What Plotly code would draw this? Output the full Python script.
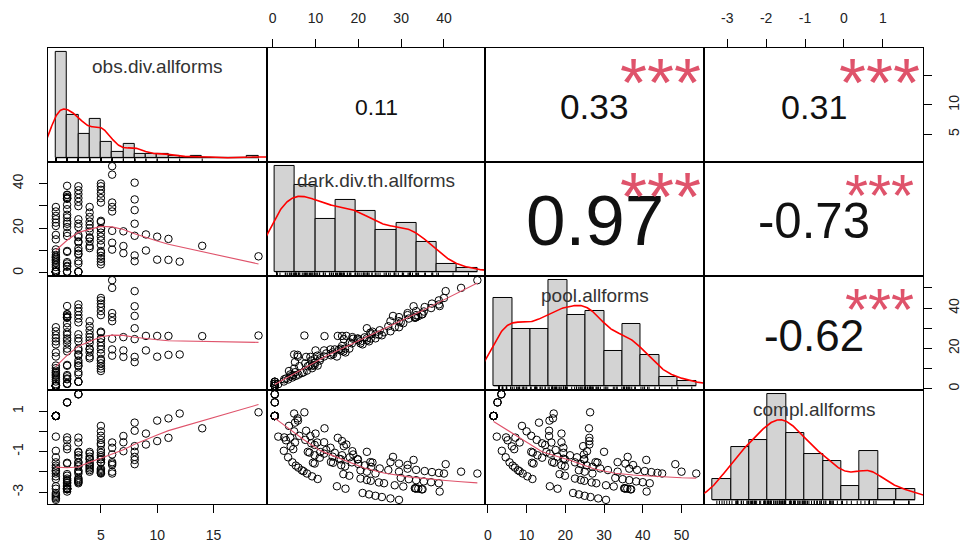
import numpy as np
import plotly.graph_objects as go

# ---------------------------------------------------------------- data
VAR_NAMES = ["obs.div.allforms", "dark.div.th.allforms", "pool.allforms", "compl.allforms"]

OBS = [
    1, 1, 1, 1, 1, 1, 1, 1, 1, 1, 1, 1, 1, 1, 1, 1, 1, 1, 1, 1, 1, 1, 1, 1, 1, 1, 1, 1, 1,
    2, 2, 2, 2, 2, 2, 2, 2, 2, 2, 2, 2, 2, 2, 2, 2, 2, 2, 2, 2, 2, 2, 2, 2, 2,
    3, 3, 3, 3, 3, 3, 3, 3, 3, 3, 3, 3, 3, 3, 3, 3, 3, 3, 3, 3, 3, 3,
    4, 4, 4, 4, 4, 4, 4, 4, 4, 4, 4, 4,
    5, 5, 5, 5, 5, 5, 5, 5, 5, 5, 5, 5, 5, 5, 5, 5, 5, 5, 5, 5,
    6, 6, 6, 6, 6, 6, 6, 6,
    7, 7, 7,
    8, 8, 8, 8, 8, 8, 8,
    9, 9, 10, 10, 11, 11, 12, 14, 19,
]

DARK = [
    0.47, 0.47, 0.47, 0.47, 0.47, 0.47, 0.47, 0.47, 0.47, 0.47, 1.3, 2.6, 3.6, 4.6, 5.4,
    6.0, 6.8, 7.2, 8.0, 9.2, 10.5, 15.0, 17.0, 21.0, 22.5, 24.0, 25.5, 27.5, 29.5,
    0.48, 0.48, 0.48, 2.7, 3.1, 4.2, 4.8, 9.4, 9.8, 16.5, 17.9, 20.5, 22.0, 22.9, 24.8,
    26.0, 28.5, 30.5, 33.2, 33.3, 33.5, 34.0, 34.8, 35.0, 39.0,
    0.48, 0.48, 0.48, 4.1, 5.2, 8.2, 8.6, 9.8, 11.0, 13.6, 14.1, 16.0, 16.9, 20.5, 22.0,
    24.0, 29.9, 31.8, 33.5, 35.3, 37.0, 38.8,
    11.1, 12.0, 14.0, 15.5, 15.9, 18.5, 20.0, 21.5, 23.0, 25.0, 27.0, 29.5,
    3.8, 5.0, 6.2, 7.6, 9.0, 9.8, 12.5, 14.5, 16.2, 18.0, 19.8, 19.9, 22.8, 23.3, 31.5,
    33.5, 35.5, 37.2, 38.8, 40.0,
    10.4, 13.5, 18.8, 27.5, 29.5, 31.5, 44.0, 47.8,
    8.8, 12.0, 18.6,
    5.2, 7.8, 16.6, 22.0, 28.1, 32.9, 40.4,
    10.0, 17.2, 5.9, 16.2, 5.8, 15.2, 5.0, 12.1, 7.4,
]

POOL = [
    1.47, 1.47, 1.47, 1.47, 1.47, 1.47, 1.47, 1.47, 1.47, 1.47, 2.3, 3.6, 4.6, 5.6, 6.4,
    7.0, 7.8, 8.2, 9.0, 10.2, 11.5, 16.0, 18.0, 22.0, 23.5, 25.0, 26.5, 28.5, 30.5,
    2.48, 2.48, 2.48, 4.7, 5.1, 6.2, 6.8, 11.4, 11.8, 18.5, 19.9, 22.5, 24.0, 24.9, 26.8,
    28.0, 30.5, 32.5, 35.2, 35.3, 35.5, 36.0, 36.8, 37.0, 41.0,
    3.48, 3.48, 3.48, 7.1, 8.2, 11.2, 11.6, 12.8, 14.0, 16.6, 17.1, 19.0, 19.9, 23.5, 25.0,
    27.0, 32.9, 34.8, 36.5, 38.3, 40.0, 41.8,
    15.1, 16.0, 18.0, 19.5, 19.9, 22.5, 24.0, 25.5, 27.0, 29.0, 31.0, 33.5,
    8.8, 10.0, 11.2, 12.6, 14.0, 14.8, 17.5, 19.5, 21.2, 23.0, 24.8, 24.9, 27.8, 28.3, 36.5,
    38.5, 40.5, 42.2, 43.8, 45.0,
    16.4, 19.5, 24.8, 33.5, 35.5, 37.5, 50.0, 53.8,
    15.8, 19.0, 25.6,
    13.2, 15.8, 24.6, 30.0, 36.1, 40.9, 48.4,
    19.0, 26.2, 15.9, 26.2, 16.8, 26.2, 17.0, 26.1, 26.4,
]

COMPL = [
    0.76, 0.76, 0.76, 0.76, 0.76, 0.76, 0.76, 0.76, 0.76, 0.76, -0.26, -0.96, -1.28, -1.53, -1.69,
    -1.79, -1.92, -1.97, -2.08, -2.22, -2.35, -2.71, -2.83, -3.04, -3.11, -3.18, -3.24, -3.31, -3.38,
    1.43, 1.43, 1.43, -0.30, -0.44, -0.74, -0.88, -1.55, -1.59, -2.11, -2.19, -2.33, -2.40, -2.44, -2.52,
    -2.56, -2.66, -2.72, -2.81, -2.81, -2.82, -2.83, -2.86, -2.86, -2.97,
    1.83, 1.83, 1.83, -0.31, -0.55, -1.01, -1.05, -1.18, -1.30, -1.51, -1.55, -1.67, -1.73, -1.92, -1.99,
    -2.08, -2.30, -2.36, -2.41, -2.47, -2.51, -2.56,
    -1.02, -1.10, -1.25, -1.35, -1.38, -1.53, -1.61, -1.68, -1.75, -1.83, -1.91, -1.99,
    0.27, 0.00, -0.22, -0.42, -0.59, -0.67, -0.92, -1.06, -1.18, -1.28, -1.38, -1.38, -1.52, -1.54, -1.84,
    -1.90, -1.96, -2.01, -2.05, -2.08,
    -0.55, -0.81, -1.14, -1.52, -1.59, -1.66, -1.99, -2.08,
    -0.23, -0.54, -0.98,
    0.43, 0.03, -0.73, -1.01, -1.26, -1.41, -1.62,
    -0.11, -0.65, 0.53, -0.48, 0.64, -0.32, 0.88, 0.15, 0.94,
]

# histogram breaks per variable: first break, last break, bin width
HIST_BREAKS = [(1, 19, 1), (0, 50, 5), (0, 55, 5), (-3.5, 2.0, 0.5)]

# upper-triangle cells (row, col) with the printed coefficient and stars
COR_CELLS = [(0, 1), (0, 2), (0, 3), (1, 2), (1, 3), (2, 3)]
COR_TEXT = ["0.11", "0.33", "0.31", "0.97", "-0.73", "-0.62"]
COR_STARS = ["", "***", "***", "***", "***", "***"]

# outer axes: tick values and tick labels
TOP_TICKS = {1: ([0, 10, 20, 30, 40], ["0", "10", "20", "30", "40"]),
             3: ([-3, -2, -1, 0, 1], ["-3", "-2", "-1", "0", "1"])}
BOTTOM_TICKS = {0: ([5, 10, 15], ["5", "10", "15"]),
                2: ([0, 10, 20, 30, 40, 50], ["0", "10", "20", "30", "40", "50"])}
LEFT_TICKS = {1: ([0, 10, 20, 30, 40], ["0", "", "20", "", "40"]),
              3: ([-3, -2, -1, 0, 1], ["-3", "", "-1", "", "1"])}
RIGHT_TICKS = {0: ([5, 10, 15], ["5", "10", ""]),
               2: ([0, 10, 20, 30, 40, 50], ["0", "", "20", "", "40", ""])}

# ---------------------------------------------------------------- helpers
DATA = [np.asarray(v, dtype=float) for v in (OBS, DARK, POOL, COMPL)]
assert len({len(v) for v in DATA}) == 1, [len(v) for v in DATA]
NV = len(DATA)

FONT = "Liberation Sans, Arial, Helvetica, sans-serif"
BAR_FILL = "#D3D3D3"
DENS_COLOR = "#FF0000"
SMOOTH_COLOR = "#DF536B"
STAR_COLOR = "#DF536B"

W, H = 962, 547
X0, X1, Y0, Y1 = 47, 927, 48, 505      # frame of the panel matrix in pixels
CW = (X1 - X0) / NV
RH = (Y1 - Y0) / NV


def xdom(j):
    return [(X0 + j * CW) / W, (X0 + (j + 1) * CW) / W]


def ydom(i):
    return [1 - (Y0 + (i + 1) * RH) / H, 1 - (Y0 + i * RH) / H]


def ext(lo, hi, f=0.04):
    r = hi - lo
    return [lo - f * r, hi + f * r]


def hist_density(v, first, last, width):
    edges = np.arange(first, last + width / 2, width)
    idx = np.searchsorted(edges, v, side="left") - 1     # right-closed bins
    idx[idx < 0] = 0                                       # include lowest
    counts = np.bincount(idx, minlength=len(edges) - 1)[: len(edges) - 1]
    dens = counts / (len(v) * width)
    return edges, dens


def kde(v, n_grid=512):
    n = len(v)
    q75, q25 = np.percentile(v, [75, 25])
    lo = min(v.std(ddof=1), (q75 - q25) / 1.34)
    bw = 0.9 * lo * n ** -0.2
    gx = np.linspace(v.min() - 3 * bw, v.max() + 3 * bw, n_grid)
    gy = np.exp(-0.5 * ((gx[:, None] - v[None, :]) / bw) ** 2).sum(1) / (n * bw * np.sqrt(2 * np.pi))
    return gx, gy


def lowess(x, y, f=2 / 3, iters=3):
    order = np.argsort(x, kind="mergesort")
    xs, ys = x[order], y[order]
    n = len(xs)
    ns = max(min(int(round(f * n)), n), 2)
    rob = np.ones(n)
    fit = np.empty(n)
    for it in range(iters + 1):
        for i in range(n):
            d = np.abs(xs - xs[i])
            h = np.partition(d, ns - 1)[ns - 1]
            if h > 0:
                u = d / h
                w = np.where(u < 1, (1 - u ** 3) ** 3, 0.0)
            else:
                w = (d == 0).astype(float)
            w = w * rob
            sw = w.sum()
            if sw <= 0:
                fit[i] = ys[i]
                continue
            xm = (w * xs).sum() / sw
            ym = (w * ys).sum() / sw
            sxx = (w * (xs - xm) ** 2).sum()
            b = (w * (xs - xm) * (ys - ym)).sum() / sxx if sxx > 1e-12 else 0.0
            fit[i] = ym + b * (xs[i] - xm)
        if it == iters:
            break
        res = ys - fit
        m = np.median(np.abs(res))
        if m < 1e-12:
            break
        u = res / (6 * m)
        rob = np.where(np.abs(u) < 1, (1 - u ** 2) ** 2, 0.0)
    return xs, fit


def ax_name(kind, k):
    return kind if k == 1 else f"{kind}{k}"


# ---------------------------------------------------------------- figure
fig = go.Figure()
layout = {}
annotations = []
tickfont = dict(family=FONT, size=14, color="#222222")

var_ranges = [ext(v.min(), v.max()) for v in DATA]

for i in range(NV):
    for j in range(NV):
        k = i * NV + j + 1
        xr, yr = var_ranges[j], var_ranges[i]
        xa, ya = ax_name("x", k), ax_name("y", k)

        if i == j:
            first, last, width = HIST_BREAKS[i]
            edges, dens = hist_density(DATA[i], first, last, width)
            xr = ext(edges[0], edges[-1])
            yr = ext(0, dens.max())
            # baseline under empty bins
            fig.add_trace(go.Scatter(x=[edges[0], edges[-1]], y=[0, 0], mode="lines",
                                     line=dict(color="black", width=1), xaxis=xa, yaxis=ya,
                                     hoverinfo="skip"))
            fig.add_trace(go.Bar(x=(edges[:-1] + edges[1:]) / 2, y=dens, width=width,
                                 marker=dict(color=BAR_FILL, line=dict(color="black", width=1)),
                                 xaxis=xa, yaxis=ya))
            gx, gy = kde(DATA[i])
            fig.add_trace(go.Scatter(x=gx, y=gy, mode="lines",
                                     line=dict(color=DENS_COLOR, width=1.6),
                                     xaxis=xa, yaxis=ya, hoverinfo="skip"))
            # rug along the bottom edge
            rx, ry = [], []
            tick_top = yr[0] + 0.03 * (yr[1] - yr[0])
            for v in DATA[i]:
                rx += [v, v, None]
                ry += [yr[0], tick_top, None]
            fig.add_trace(go.Scatter(x=rx, y=ry, mode="lines",
                                     line=dict(color="black", width=1),
                                     xaxis=xa, yaxis=ya, hoverinfo="skip"))
            annotations.append(dict(text=VAR_NAMES[i], x=0.5, y=0.8333,
                                    xref=f"{xa} domain", yref=f"{ya} domain",
                                    showarrow=False, xanchor="center", yanchor="middle",
                                    font=dict(family=FONT, size=19, color="#333333")))
        elif i > j:
            fig.add_trace(go.Scatter(x=DATA[j], y=DATA[i], mode="markers",
                                     marker=dict(symbol="circle-open", size=7.5, color="black",
                                                 line=dict(width=1, color="black")),
                                     xaxis=xa, yaxis=ya, hoverinfo="skip"))
            sx, sy = lowess(DATA[j], DATA[i])
            fig.add_trace(go.Scatter(x=sx, y=sy, mode="lines",
                                     line=dict(color=SMOOTH_COLOR, width=1.1),
                                     xaxis=xa, yaxis=ya, hoverinfo="skip"))
        else:
            # empty trace so the correlation cell gets its own subplot
            fig.add_trace(go.Scatter(x=[np.mean(xr)], y=[np.mean(yr)], mode="markers",
                                     marker=dict(size=1, opacity=0), xaxis=xa, yaxis=ya,
                                     hoverinfo="skip"))

        xaxis = dict(domain=xdom(j), anchor=ya, range=xr,
                     showgrid=False, zeroline=False, showline=True, mirror=True,
                     linecolor="black", linewidth=1, ticks="", showticklabels=False,
                     fixedrange=True)
        yaxis = dict(domain=ydom(i), anchor=xa, range=yr,
                     showgrid=False, zeroline=False, showline=True, mirror=True,
                     linecolor="black", linewidth=1, ticks="", showticklabels=False,
                     fixedrange=True)

        tick_style = dict(ticks="outside", ticklen=8, tickwidth=1, tickcolor="black",
                          showticklabels=True, tickfont=tickfont, tickmode="array",
                          ticklabelstandoff=10)
        if i == 0 and j in TOP_TICKS:
            vals, txt = TOP_TICKS[j]
            xaxis.update(side="top", tickvals=vals, ticktext=txt, **tick_style)
        if i == NV - 1 and j in BOTTOM_TICKS:
            vals, txt = BOTTOM_TICKS[j]
            xaxis.update(side="bottom", tickvals=vals, ticktext=txt, **tick_style)
        if j == 0 and i in LEFT_TICKS:
            vals, txt = LEFT_TICKS[i]
            yaxis.update(side="left", tickvals=vals, ticktext=txt, tickangle=-90, **tick_style)
        if j == NV - 1 and i in RIGHT_TICKS:
            vals, txt = RIGHT_TICKS[i]
            yaxis.update(side="right", tickvals=vals, ticktext=txt, tickangle=-90, **tick_style)

        layout["xaxis" if k == 1 else f"xaxis{k}"] = xaxis
        layout["yaxis" if k == 1 else f"yaxis{k}"] = yaxis

# correlation coefficients in the upper triangle; size grows with |r|
for (i, j), txt, stars in zip(COR_CELLS, COR_TEXT, COR_STARS):
    k = i * NV + j + 1
    r = float(txt)
    em = sum(0.556 if ch.isdigit() else (0.333 if ch == "-" else 0.278) for ch in txt)
    base = 108.8 / em
    xa, ya = ax_name("x", k), ax_name("y", k)
    annotations.append(dict(text=txt, x=0.5, y=0.5, xref=f"{xa} domain", yref=f"{ya} domain",
                            showarrow=False, xanchor="center", yanchor="middle", yshift=-2,
                            font=dict(family=FONT, size=base * (abs(r) + 0.3), color="#111111")))
    if stars:
        annotations.append(dict(text=stars, x=0.8, y=0.8, xref=f"{xa} domain", yref=f"{ya} domain",
                                showarrow=False, xanchor="center", yanchor="middle", yshift=-11,
                                font=dict(family=FONT, size=base * 1.24, color=STAR_COLOR)))

fig.update_layout(
    width=W, height=H,
    margin=dict(l=0, r=0, t=0, b=0),
    paper_bgcolor="white", plot_bgcolor="white",
    showlegend=False, bargap=0,
    annotations=annotations,
    **layout,
)

fig.write_html("out.html", config={"displayModeBar": False})
